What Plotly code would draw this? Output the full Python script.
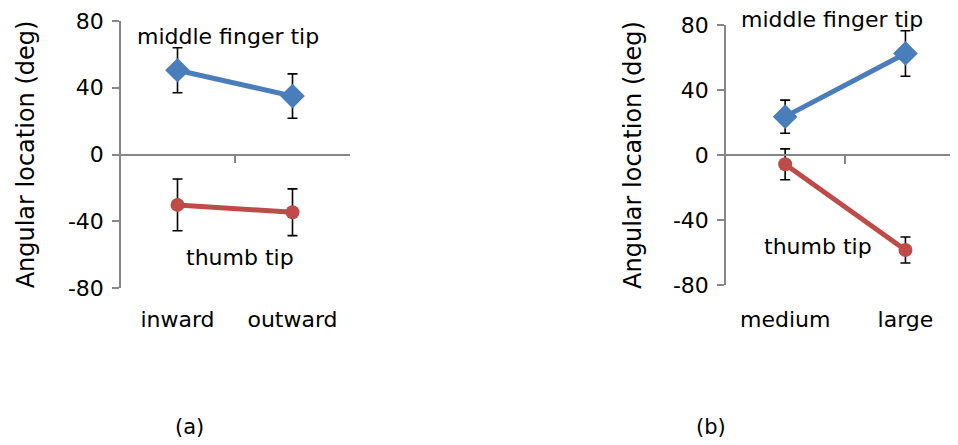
import plotly.graph_objects as go

# ---- data ----
categories_a = ["inward", "outward"]
middle_a = [50.5, 35.0]
middle_a_err = [13.5, 13.3]
thumb_a = [-30.2, -34.6]
thumb_a_err = [15.5, 14.0]

categories_b = ["medium", "large"]
middle_b = [23.6, 62.5]
middle_b_err = [10.2, 14.0]
thumb_b = [-5.7, -58.5]
thumb_b_err = [9.5, 8.0]

y_ticks = [-80, -40, 0, 40, 80]
y_tick_text = ["-80", "-40", "0", "40", "80"]

BLUE = "#4A7EBB"
RED = "#BE4B48"
AXIS = "#868686"
FONT = "DejaVu Sans"

# the page body has an 8px default margin, so the figure is sized to fit
OFF = 8
W, H = 958 - OFF, 445 - OFF

def px_x(v):
    return (v - OFF) / W

def px_y(v):
    return 1 - (v - OFF) / H

fig = go.Figure()

def add_series(cats, vals, errs, color, symbol, size, xa, ya):
    fig.add_trace(go.Scatter(
        x=cats, y=vals, xaxis=xa, yaxis=ya, mode="lines+markers",
        line=dict(color=color, width=5),
        marker=dict(symbol=symbol, size=size, color=color),
        error_y=dict(type="data", array=errs, visible=True, color="black",
                     thickness=1.6, width=5),
        showlegend=False, hoverinfo="skip", cliponaxis=False,
    ))

add_series(categories_a, middle_a, middle_a_err, BLUE, "diamond", 19, "x", "y")
add_series(categories_a, thumb_a, thumb_a_err, RED, "circle", 14, "x", "y")
add_series(categories_b, middle_b, middle_b_err, BLUE, "diamond", 19, "x2", "y2")
add_series(categories_b, thumb_b, thumb_b_err, RED, "circle", 14, "x2", "y2")

dom_a_x = [px_x(120), px_x(350)]
dom_a_y = [px_y(288), px_y(21)]
dom_b_x = [px_x(725), 1.0]
dom_b_y = [px_y(285), px_y(25)]

b_right = -0.5 + (958 - 725) / 120.3

tickfont = dict(family=FONT, size=22, color="black")

def yaxis(domain, xpos, standoff):
    return dict(
        domain=domain, anchor="free", position=xpos, range=[-80, 80],
        automargin=False,
        tickvals=y_ticks, ticktext=y_tick_text, ticks="outside", ticklen=7,
        tickwidth=1.5, tickcolor=AXIS, showline=True, linecolor=AXIS,
        linewidth=1.5, showgrid=False, zeroline=False, tickfont=tickfont,
        ticklabelstandoff=4,
        title=dict(text="Angular location (deg)",
                   font=dict(family=FONT, size=24, color="black"),
                   standoff=standoff),
    )

def xaxis(domain, ydom, rng, standoff):
    return dict(
        domain=domain, anchor="free", position=(ydom[0] + ydom[1]) / 2,
        range=rng, type="category", automargin=False,
        showline=True, linecolor=AXIS, linewidth=1.5,
        ticks="outside", tickson="boundaries", ticklen=8, tickwidth=1.5,
        tickcolor=AXIS, showgrid=False, zeroline=False,
        tickfont=tickfont, ticklabelstandoff=standoff,
    )

fig.update_layout(
    width=W, height=H, margin=dict(l=0, r=0, t=0, b=0),
    paper_bgcolor="white", plot_bgcolor="rgba(0,0,0,0)",
    font=dict(family=FONT, color="black"),
    xaxis=xaxis(dom_a_x, dom_a_y, [-0.5, 1.5], 145),
    yaxis=yaxis(dom_a_y, dom_a_x[0], 26),
    xaxis2=xaxis(dom_b_x, dom_b_y, [-0.5, b_right], 145),
    yaxis2=yaxis(dom_b_y, dom_b_x[0], 24),
)

ann_font = dict(family=FONT, size=22, color="black")
fig.add_annotation(x=0.44, y=71, xref="x", yref="y", text="middle finger tip",
                   showarrow=False, font=ann_font,
                   xanchor="center", yanchor="middle")
fig.add_annotation(x=0.54, y=-61.5, xref="x", yref="y", text="thumb tip",
                   showarrow=False, font=ann_font,
                   xanchor="center", yanchor="middle")
fig.add_annotation(x=0.39, y=80, yshift=5, xref="x2", yref="y2",
                   text="middle finger tip", showarrow=False, font=ann_font,
                   xanchor="center", yanchor="middle")
fig.add_annotation(x=0.27, y=-56.5, xref="x2", yref="y2", text="thumb tip",
                   showarrow=False, font=ann_font,
                   xanchor="center", yanchor="middle")

cap_font = dict(family=FONT, size=21, color="black")
fig.add_annotation(x=px_x(189), y=px_y(427), xref="paper", yref="paper",
                   text="(a)", showarrow=False, font=cap_font,
                   xanchor="center", yanchor="middle")
fig.add_annotation(x=px_x(711), y=px_y(427), xref="paper", yref="paper",
                   text="(b)", showarrow=False, font=cap_font,
                   xanchor="center", yanchor="middle")

fig.write_html("out.html")
